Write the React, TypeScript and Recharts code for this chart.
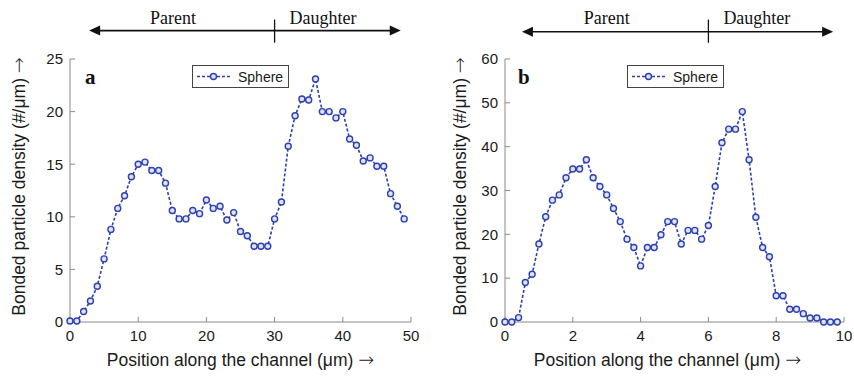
import React from 'react';
import { LineChart, Line, XAxis, YAxis, ReferenceLine, ReferenceDot, Legend } from 'recharts';

// ---------- data ----------
const POSITION_A = [0, 1, 2, 3, 4, 5, 6, 7, 8, 9, 10, 11, 12, 13, 14, 15, 16, 17, 18, 19, 20, 21, 22, 23, 24, 25, 26, 27, 28, 29, 30, 31, 32, 33, 34, 35, 36, 37, 38, 39, 40, 41, 42, 43, 44, 45, 46, 47, 48, 49];
const DENSITY_A = [0.1, 0.1, 1, 2, 3.4, 6, 8.8, 10.8, 12, 13.8, 15, 15.2, 14.4, 14.4, 13.2, 10.6, 9.8, 9.8, 10.6, 10.3, 11.6, 10.8, 11, 9.7, 10.4, 8.6, 8.2, 7.2, 7.2, 7.2, 9.8, 11.4, 16.7, 19.6, 21.2, 21.1, 23.1, 20, 20, 19.4, 20, 17.4, 16.8, 15.3, 15.6, 14.8, 14.8, 12.2, 11, 9.8];
const POSITION_B = [0, 0.2, 0.4, 0.6, 0.8, 1, 1.2, 1.4, 1.6, 1.8, 2, 2.2, 2.4, 2.6, 2.8, 3, 3.2, 3.4, 3.6, 3.8, 4, 4.2, 4.4, 4.6, 4.8, 5, 5.2, 5.4, 5.6, 5.8, 6, 6.2, 6.4, 6.6, 6.8, 7, 7.2, 7.4, 7.6, 7.8, 8, 8.2, 8.4, 8.6, 8.8, 9, 9.2, 9.4, 9.6, 9.8];
const DENSITY_B = [0, 0, 1, 9, 10.9, 17.8, 24, 27.8, 29, 32.9, 34.9, 34.9, 37, 32.9, 30.9, 29, 25.9, 22.9, 18.9, 17, 12.8, 17, 17, 19.9, 22.9, 22.9, 17.8, 20.9, 20.9, 18.9, 22, 30.9, 40.9, 44, 44, 48, 37, 23.9, 17, 14.9, 6, 6, 2.9, 2.9, 1.9, 0.9, 0.9, 0, 0, 0];

const X_TICKS_A = [0, 10, 20, 30, 40, 50];
const Y_TICKS_A = [0, 5, 10, 15, 20, 25];
const X_TICKS_B = [0, 2, 4, 6, 8, 10];
const Y_TICKS_B = [0, 10, 20, 30, 40, 50, 60];

const SERIES_NAME = 'Sphere';
const X_LABEL = 'Position along the channel (\u03bcm) ';
const Y_LABEL = 'Bonded particle density (#/\u03bcm) ';
const ARROW = '\u2192';
const PARENT = 'Parent';
const DAUGHTER = 'Daughter';

const dataA = POSITION_A.map((x, i) => ({ x, v: DENSITY_A[i] }));
const dataB = POSITION_B.map((x, i) => ({ x, v: DENSITY_B[i] }));

// ---------- styles ----------
const SANS = '"Liberation Sans", Arial, Helvetica, sans-serif';
const SERIF = '"Liberation Serif", "Times New Roman", serif';
const BLUE = '#2b3fae';
const DOT_FILL = '#dde2f6';
const FRAME = '#8a8a8a';
const TEXT = '#1a1a1a';
const ARROW_FONT = '"DejaVu Sans", sans-serif';

const LegendBox = () => (
  <div
    style={{
      boxSizing: 'border-box',
      width: 97,
      height: 23,
      border: '1px solid #444',
      background: '#fff',
      display: 'flex',
      alignItems: 'center',
      fontFamily: SANS,
      fontSize: 14,
      color: TEXT,
    }}
  >
    <svg width={42} height={21} style={{ display: 'block' }}>
      <line x1={4} y1={10.5} x2={37} y2={10.5} stroke={BLUE} strokeWidth={1.6} strokeDasharray="3 2" />
      <circle cx={20.5} cy={10.5} r={3} stroke={BLUE} strokeWidth={1.4} fill={DOT_FILL} />
    </svg>
    <span style={{ marginLeft: 3 }}>{SERIES_NAME}</span>
  </div>
);

const arrowShape = (p: any) => {
  const { x1, y1, x2, y2 } = p;
  const l = 11;
  const h = 5;
  return (
    <g>
      <line x1={x1 + l - 1} y1={y1} x2={x2 - l + 1} y2={y2} stroke="#111" strokeWidth={1.6} />
      <polygon points={`${x1},${y1} ${x1 + l},${y1 - h} ${x1 + l},${y1 + h}`} fill="#111" />
      <polygon points={`${x2},${y2} ${x2 - l},${y2 - h} ${x2 - l},${y2 + h}`} fill="#111" />
    </g>
  );
};

const textShape = (label: string, size: number, bold: boolean, anchor: string) => (p: any) => (
  <text
    x={p.cx}
    y={p.cy}
    textAnchor={anchor}
    fontFamily={SERIF}
    fontSize={size}
    fontWeight={bold ? 'bold' : 'normal'}
    fill="#111"
  >
    {label}
  </text>
);

type PanelProps = {
  data: { x: number; v: number }[];
  left: number;
  width: number;
  yAxisWidth: number;
  marginRight: number;
  xDomain: [number, number];
  yDomain: [number, number];
  xTicks: number[];
  yTicks: number[];
  letter: string;
  letterPos: [number, number];
  arrowX: [number, number];
  arrowY: number;
  boundaryX: number;
  boundaryY: [number, number];
  textY: number;
  parentX: number;
  daughterX: number;
  legendLeft: number;
  yLabelX: number;
  xLabelShift: number;
};

const Panel = (pp: PanelProps) => {
  const axisStyle = { stroke: FRAME, strokeWidth: 1 };
  const tickStyle = { fontFamily: SANS, fontSize: 15, fill: TEXT };
  return (
    <div style={{ position: 'absolute', left: pp.left, top: 0 }}>
      <LineChart
        width={pp.width}
        height={378}
        data={pp.data}
        margin={{ top: 59, right: pp.marginRight, bottom: 0, left: 0 }}
      >
        <XAxis
          dataKey="x"
          type="number"
          domain={pp.xDomain}
          ticks={pp.xTicks}
          interval={0}
          height={56}
          tickSize={-5}
          tickMargin={13}
          axisLine={axisStyle}
          tickLine={axisStyle}
          tick={tickStyle}
          label={(lp: any) => {
            const vb = lp.viewBox;
            return (
              <text
                x={vb.x + vb.width / 2 + pp.xLabelShift}
                y={vb.y + 44}
                textAnchor="middle"
                fontFamily={SANS}
                fontSize={17.5}
                fill={TEXT}
              >
                {X_LABEL}
                <tspan fontFamily={ARROW_FONT} fontWeight={200} fontSize={19}>{ARROW}</tspan>
              </text>
            );
          }}
        />
        <XAxis
          xAxisId="top"
          orientation="top"
          type="number"
          domain={pp.xDomain}
          ticks={pp.xTicks}
          interval={0}
          height={0}
          tickSize={-5}
          axisLine={axisStyle}
          tickLine={axisStyle}
          tickFormatter={() => ''}
        />
        <YAxis
          type="number"
          domain={pp.yDomain}
          ticks={pp.yTicks}
          interval={0}
          width={pp.yAxisWidth}
          tickSize={-5}
          tickMargin={12}
          axisLine={axisStyle}
          tickLine={axisStyle}
          tick={tickStyle}
          label={(lp: any) => {
            const vb = lp.viewBox;
            const cy = vb.y + vb.height / 2 - 4;
            return (
              <text
                x={pp.yLabelX}
                y={cy}
                transform={`rotate(-90, ${pp.yLabelX}, ${cy})`}
                textAnchor="middle"
                fontFamily={SANS}
                fontSize={17.5}
                fill={TEXT}
              >
                {Y_LABEL}
                <tspan fontFamily={ARROW_FONT} fontWeight={200} fontSize={19}>{ARROW}</tspan>
              </text>
            );
          }}
        />
        <YAxis
          yAxisId="right"
          orientation="right"
          type="number"
          domain={pp.yDomain}
          ticks={pp.yTicks}
          interval={0}
          width={0}
          tickSize={-5}
          axisLine={axisStyle}
          tickLine={axisStyle}
          tickFormatter={() => ''}
        />
        <Legend
          layout="horizontal"
          verticalAlign="middle"
          align="center"
          wrapperStyle={{ left: pp.legendLeft, top: 65, width: 'auto', height: 'auto' }}
          content={() => <LegendBox />}
        />
        <Line
          type="linear"
          dataKey="v"
          name={SERIES_NAME}
          stroke={BLUE}
          strokeWidth={1.6}
          strokeDasharray="3 2"
          dot={{ r: 3, stroke: BLUE, strokeWidth: 1.4, fill: DOT_FILL, strokeDasharray: '0' }}
          activeDot={false}
          isAnimationActive={false}
        />
        <ReferenceLine
          segment={[
            { x: pp.arrowX[0], y: pp.arrowY },
            { x: pp.arrowX[1], y: pp.arrowY },
          ]}
          ifOverflow="visible"
          shape={arrowShape}
        />
        <ReferenceLine
          segment={[
            { x: pp.boundaryX, y: pp.boundaryY[0] },
            { x: pp.boundaryX, y: pp.boundaryY[1] },
          ]}
          ifOverflow="visible"
          stroke="#111"
          strokeWidth={1.3}
        />
        <ReferenceDot
          x={pp.parentX}
          y={pp.textY}
          r={0}
          ifOverflow="visible"
          shape={textShape(PARENT, 18, false, 'middle')}
        />
        <ReferenceDot
          x={pp.daughterX}
          y={pp.textY}
          r={0}
          ifOverflow="visible"
          shape={textShape(DAUGHTER, 18, false, 'middle')}
        />
        <ReferenceDot
          x={pp.letterPos[0]}
          y={pp.letterPos[1]}
          r={0}
          ifOverflow="visible"
          shape={textShape(pp.letter, 21, true, 'start')}
        />
      </LineChart>
    </div>
  );
};

export default function App() {
  return (
    <div style={{ position: 'absolute', left: 0, top: 0, width: 854, height: 378, background: '#fff' }}>
      <Panel
        data={dataA}
        left={0}
        width={430}
        yAxisWidth={70}
        marginRight={19}
        xDomain={[0, 50]}
        yDomain={[0, 25]}
        xTicks={X_TICKS_A}
        yTicks={Y_TICKS_A}
        letter="a"
        letterPos={[2.2, 22.6]}
        arrowX={[2.8, 48.5]}
        arrowY={27.7}
        boundaryX={30}
        boundaryY={[26.55, 28.75]}
        textY={28.35}
        parentX={15.1}
        daughterX={37.1}
        legendLeft={192}
        yLabelX={25}
        xLabelShift={0}
      />
      <Panel
        data={dataB}
        left={430}
        width={424}
        yAxisWidth={75}
        marginRight={10}
        xDomain={[0, 10]}
        yDomain={[0, 60]}
        xTicks={X_TICKS_B}
        yTicks={Y_TICKS_B}
        letter="b"
        letterPos={[0.38, 54.35]}
        arrowX={[0.5, 9.68]}
        arrowY={66.2}
        boundaryX={6}
        boundaryY={[63.7, 69.0]}
        textY={67.9}
        parentX={3.0}
        daughterX={7.43}
        legendLeft={197}
        yLabelX={36}
        xLabelShift={-7}
      />
    </div>
  );
}
